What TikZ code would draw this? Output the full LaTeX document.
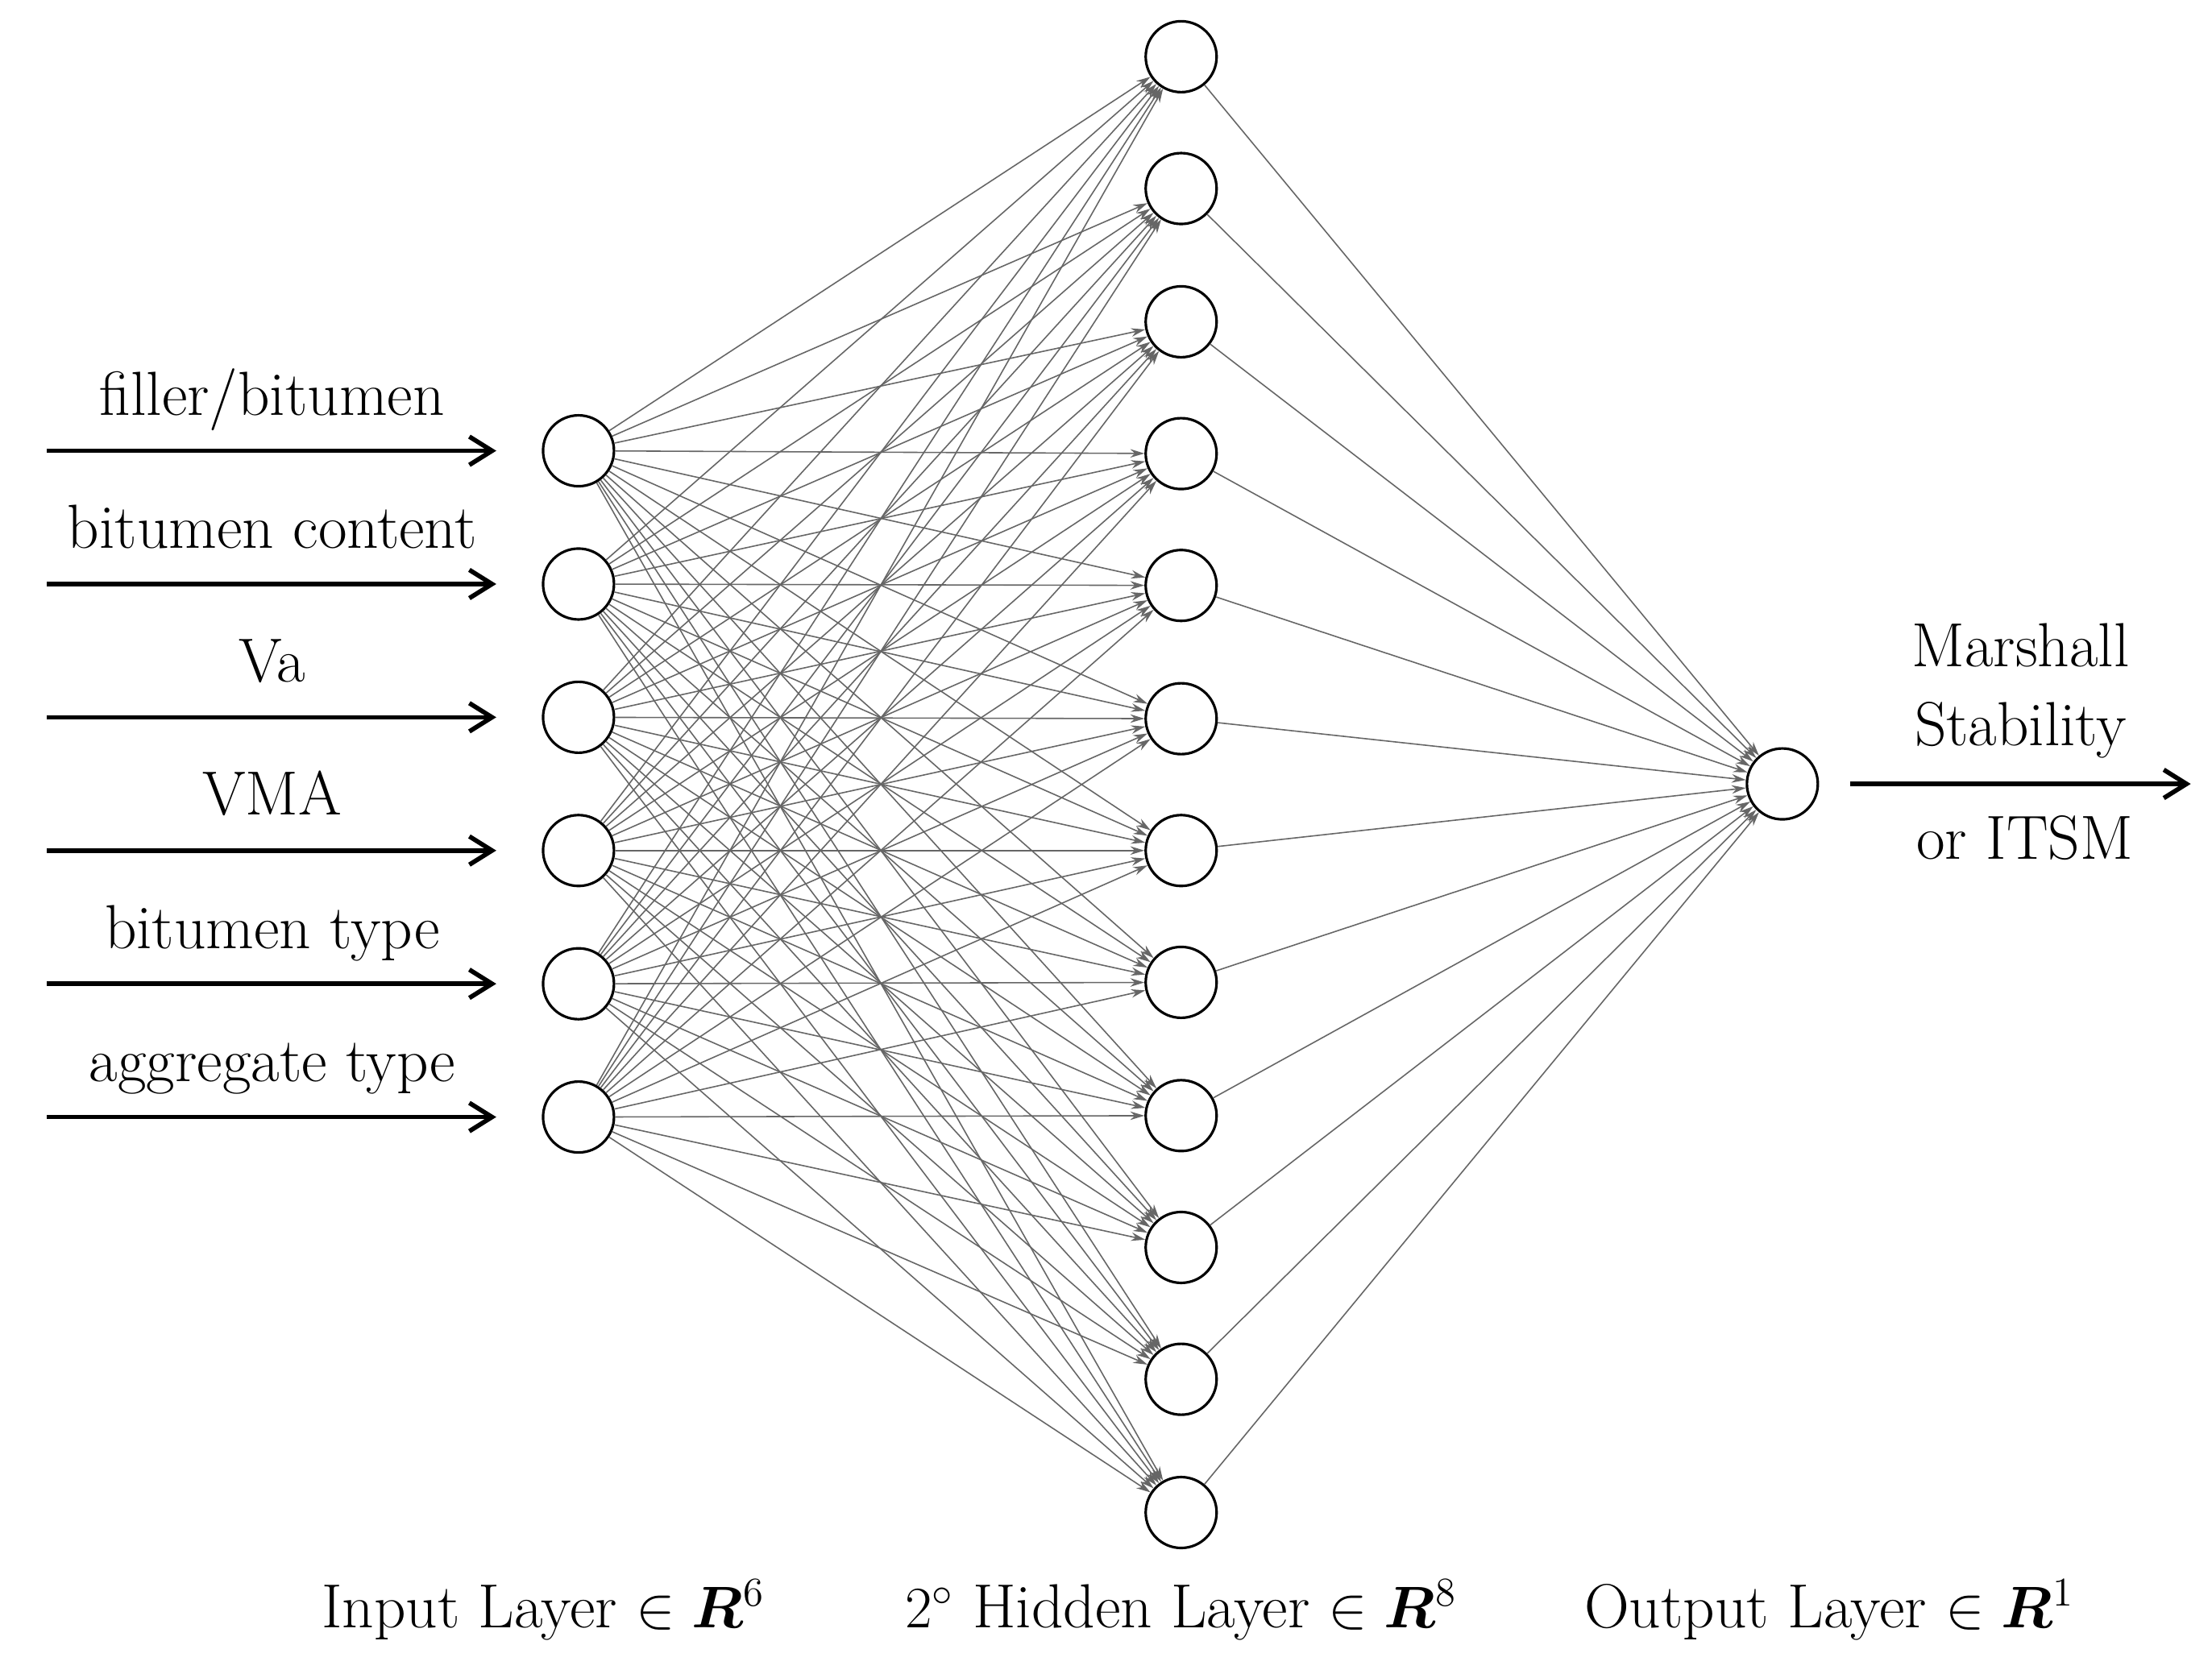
\documentclass[tikz,border=0pt]{standalone}
\usepackage{bm}
\usetikzlibrary{arrows.meta}
\begin{document}
\begin{tikzpicture}[x=0.0176cm,y=-0.0176cm,
  neuron/.style={circle,draw,line width=0.9pt,minimum size=0.88cm,inner sep=0pt,fill=white},
  conn/.style={gray!80!black,line width=0.45pt,-{Stealth[length=5pt,width=3pt]}},
  inarrow/.style={line width=1.6pt,-{Straight Barb[length=8pt,width=10pt]}},
  lbl/.style={font=\fontsize{22}{26}\selectfont,inner sep=0pt}]
\useasboundingbox (0,0) rectangle (1560,1178);
\foreach \i/\y in {1/318,2/412,3/506,4/600,5/694,6/788}
  \node[neuron] (i\i) at (408,\y) {};
\foreach \j/\y in {1/40,2/133,3/227,4/320,5/413,6/507,7/600,8/693,9/787,10/880,11/973,12/1067}
  \node[neuron] (h\j) at (833,\y) {};
\node[neuron] (o) at (1257,553) {};
\begin{scope}[on background layer/.try]
\foreach \i in {1,...,6}
  \foreach \j in {1,...,12}
    \draw[conn] (i\i) -- (h\j);
\foreach \j in {1,...,12}
  \draw[conn] (h\j) -- (o);
\end{scope}
\foreach \i/\y/\t in {1/318/{filler/bitumen},2/412/{bitumen content},3/506/{Va},4/600/{VMA},5/694/{bitumen type},6/788/{aggregate type}}{
  \coordinate (s\i) at (33,\y);
  \coordinate (e\i) at (350,\y);
  \draw[inarrow] (s\i) -- (e\i);
  \node[lbl,anchor=base] (t\i) at (192,\y-25) {\t};
}
\coordinate (os) at (1305,553);
\coordinate (oe) at (1545,553);
\draw[inarrow] (os) -- (oe);
\node[lbl,anchor=base] (m1) at (1425,470) {Marshall};
\node[lbl,anchor=base] (m2) at (1425,526) {Stability};
\node[lbl,anchor=base] (m3) at (1428,606) {or ITSM};
\node[lbl,anchor=base] (b1) at (383,1148) {Input Layer $\in \bm{R}^6$};
\node[lbl,anchor=base] (b2) at (833,1148) {$2^\circ$ Hidden Layer $\in \bm{R}^8$};
\node[lbl,anchor=base] (b3) at (1290,1148) {Output Layer $\in \bm{R}^1$};
\end{tikzpicture}
\end{document}
